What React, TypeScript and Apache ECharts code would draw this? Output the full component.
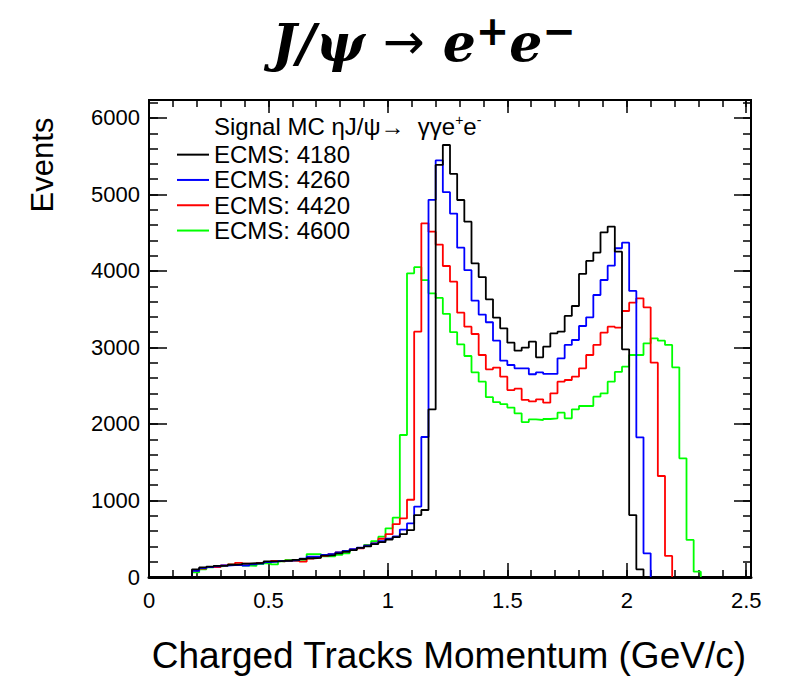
import React, { useEffect, useRef } from "react";
import * as echarts from "echarts";

// Histogram binning (GeV/c)
const BIN_WIDTH = 0.03;
const FIRST_BIN = 6; // first filled bin starts at 0.18 GeV/c

// Bin contents, starting at bin FIRST_BIN
const ecms4180 = [
  100, 125, 135, 145, 150, 160, 165, 175, 180, 185,
  205, 205, 210, 210, 225, 235, 245, 250, 280, 285,
  310, 330, 350, 380, 400, 430, 455, 490, 520, 560,
  614, 810, 876, 2190, 5386, 5647, 5270, 4928, 4645, 4100,
  3920, 3630, 3390, 3251, 3063, 2958, 2998, 3076, 2871, 3011,
  3185, 3207, 3412, 3542, 3961, 4131, 4240, 4505, 4580, 4253,
  2976, 810, 100,
];
const ecms4260 = [
  80, 115, 130, 140, 150, 155, 160, 150, 165, 175,
  195, 200, 210, 215, 220, 240, 265, 265, 290, 300,
  320, 340, 365, 385, 410, 440, 470, 500, 530, 620,
  700, 920, 1830, 4930, 5445, 5030, 4750, 4305, 4010, 3612,
  3430, 3330, 3089, 2828, 2771, 2728, 2728, 2650, 2675, 2654,
  2654, 2858, 3033, 3098, 3281, 3394, 3686, 3882, 4070, 4297,
  4370, 3740, 1826, 310,
];
const ecms4420 = [
  85, 110, 130, 130, 150, 165, 185, 175, 170, 185,
  195, 210, 205, 215, 210, 200, 240, 255, 275, 300,
  320, 340, 360, 375, 410, 440, 500, 560, 690, 765,
  1010, 3207, 4623, 4514, 4345, 4065, 3860, 3455, 3272, 3176,
  2902, 2715, 2737, 2618, 2444, 2462, 2314, 2295, 2322, 2279,
  2401, 2553, 2575, 2618, 2728, 2902, 3033, 3194, 3272, 3260,
  3477, 3586, 3643, 3525, 2802, 1320, 275,
];
const ecms4600 = [
  60, 100, 125, 140, 145, 160, 165, 150, 145, 170,
  180, 165, 205, 225, 215, 225, 300, 300, 270, 270,
  290, 310, 355, 380, 420, 470, 527, 636, 775, 1856,
  3969, 4050, 3880, 3708, 3648, 3440, 3200, 3040, 2889, 2675,
  2553, 2350, 2285, 2260, 2215, 2140, 2025, 2061, 2052, 2065,
  2074, 2148, 2074, 2192, 2235, 2235, 2357, 2400, 2553, 2680,
  2749, 2902, 2902, 3055, 3120, 3089, 3033, 2741, 1551, 484,
  70,
];

const seriesNames = ["ECMS: 4180", "ECMS: 4260", "ECMS: 4420", "ECMS: 4600"];
const seriesColors = ["#000000", "#0000ff", "#ff0000", "#00ff00"];
const seriesValues = [ecms4180, ecms4260, ecms4420, ecms4600];

const X_MAX = 2.52;
const Y_MAX = 6235;
const X_MAJOR = 0.5;
const X_MINOR = 0.1;
const Y_MAJOR = 1000;
const Y_MINOR = 200;

const SANS = "'Liberation Sans', Arial, Helvetica, sans-serif";
const SERIF = "'DejaVu Serif', 'Liberation Serif', serif";

function histPoints(values: number[]): [number, number][] {
  const edge = (k: number) => Math.round(k * BIN_WIDTH * 10000) / 10000;
  const pts: [number, number][] = [];
  pts.push([edge(FIRST_BIN), 0]);
  values.forEach((v, i) => pts.push([edge(FIRST_BIN + i), v]));
  pts.push([edge(FIRST_BIN + values.length), 0]);
  return pts;
}

const isMultiple = (v: number, step: number) =>
  Math.abs(v / step - Math.round(v / step)) < 1e-6;

export default function App() {
  const ref = useRef<HTMLDivElement>(null);

  useEffect(() => {
    document.body.style.margin = "0";
    if (!ref.current) return;
    const chart = echarts.init(ref.current, undefined, { renderer: "svg" });

    const xCommon = {
      type: "value" as const,
      min: 0,
      max: X_MAX,
      axisLine: { show: false, onZero: false },
      splitLine: { show: false },
      axisLabel: { show: false },
    };
    const yCommon = {
      type: "value" as const,
      min: 0,
      max: Y_MAX,
      axisLine: { show: false, onZero: false },
      splitLine: { show: false },
      axisLabel: { show: false },
    };
    const tickStyle = { color: "#000", width: 1.5 };

    const order = [3, 2, 1, 0]; // draw black last (on top)
    const series = order.map((i) => ({
      type: "line" as const,
      name: seriesNames[i],
      data: histPoints(seriesValues[i]),
      step: "end" as const,
      symbol: "none",
      showSymbol: false,
      silent: true,
      clip: true,
      xAxisIndex: 0,
      yAxisIndex: 0,
      lineStyle: { color: seriesColors[i], width: 1.8 },
      itemStyle: { color: seriesColors[i] },
    }));

    const titleRich = {
      a: {
        fontFamily: SERIF,
        fontSize: 52,
        fontWeight: "bold",
        fontStyle: "italic",
        lineHeight: 62,
        fill: "#000",
      },
      r: {
        fontFamily: "'DejaVu Sans', sans-serif",
        fontSize: 50,
        lineHeight: 62,
        fill: "#000",
      },
      s: {
        fontFamily: "'DejaVu Sans', sans-serif",
        fontSize: 40,
        fontWeight: "bold",
        lineHeight: 40,
        verticalAlign: "top",
        fill: "#000",
      },
    };

    chart.setOption({
      animation: false,
      backgroundColor: "#ffffff",
      grid: {
        left: 149,
        top: 100,
        width: 602,
        height: 477,
        show: true,
        borderColor: "#000",
        borderWidth: 2,
        backgroundColor: "transparent",
        containLabel: false,
        outerBoundsMode: "none",
      },
      xAxis: [
        {
          ...xCommon,
          position: "bottom",
          interval: X_MAJOR,
          axisLine: { show: true, onZero: false, lineStyle: { color: "#000", width: 3 } },
          axisTick: { show: true, inside: true, length: 14, lineStyle: tickStyle },
          axisLabel: {
            show: true,
            margin: 12,
            color: "#000",
            fontFamily: SANS,
            fontSize: 22,
            formatter: (v: number) => (isMultiple(v, X_MAJOR) ? String(v) : ""),
          },
        },
        {
          ...xCommon,
          position: "bottom",
          interval: X_MINOR,
          axisTick: { show: true, inside: true, length: 7, lineStyle: tickStyle },
        },
        {
          ...xCommon,
          position: "top",
          interval: X_MAJOR,
          axisTick: { show: true, inside: true, length: 13, lineStyle: tickStyle },
        },
        {
          ...xCommon,
          position: "top",
          interval: X_MINOR,
          axisTick: { show: true, inside: true, length: 7, lineStyle: tickStyle },
        },
      ],
      yAxis: [
        {
          ...yCommon,
          position: "left",
          interval: Y_MAJOR,
          axisTick: { show: true, inside: true, length: 18, lineStyle: tickStyle },
          axisLabel: {
            show: true,
            margin: 9,
            color: "#000",
            fontFamily: SANS,
            fontSize: 22,
            formatter: (v: number) => (isMultiple(v, Y_MAJOR) ? String(v) : ""),
          },
        },
        {
          ...yCommon,
          position: "left",
          interval: Y_MINOR,
          axisTick: { show: true, inside: true, length: 9, lineStyle: tickStyle },
        },
        {
          ...yCommon,
          position: "right",
          interval: Y_MAJOR,
          axisTick: { show: true, inside: true, length: 17, lineStyle: tickStyle },
        },
        {
          ...yCommon,
          position: "right",
          interval: Y_MINOR,
          axisTick: { show: true, inside: true, length: 8, lineStyle: tickStyle },
        },
      ],
      legend: {
        data: seriesNames,
        orient: "vertical",
        left: 177,
        top: 142,
        padding: 0,
        itemGap: 0,
        itemWidth: 32,
        itemHeight: 2,
        icon: "rect",
        selectedMode: false,
        textStyle: {
          color: "#000",
          fontFamily: SANS,
          fontSize: 24,
          lineHeight: 25.3,
        },
      },
      graphic: [
        {
          type: "text",
          x: 424,
          y: 42,
          style: {
            text: "{a|J/ψ }{r|→}{a| e}{s|+}{a|e}{s|−}",
            textAlign: "center",
            textVerticalAlign: "middle",
            fill: "#000",
            rich: titleRich,
          },
        },
        {
          type: "text",
          x: 214,
          y: 126,
          style: {
            text: "{n|Signal MC ηJ/ψ→  γγe}{s|+}{n|e}{s|-}",
            textAlign: "left",
            textVerticalAlign: "middle",
            fill: "#000",
            rich: {
              n: { fontFamily: SANS, fontSize: 24, lineHeight: 26, fill: "#000" },
              s: { fontFamily: SANS, fontSize: 14, lineHeight: 14, verticalAlign: "top", fill: "#000" },
            },
          },
        },
        {
          type: "text",
          x: 42,
          y: 165,
          rotation: Math.PI / 2,
          style: {
            text: "Events",
            textAlign: "center",
            textVerticalAlign: "middle",
            fontFamily: SANS,
            fontSize: 31,
            fill: "#000",
          },
        },
        {
          type: "text",
          x: 746,
          y: 655,
          style: {
            text: "Charged Tracks Momentum (GeV/c)",
            textAlign: "right",
            textVerticalAlign: "middle",
            fontFamily: SANS,
            fontSize: 37,
            fill: "#000",
          },
        },
      ],
      series,
    });

    return () => {
      chart.dispose();
    };
  }, []);

  return <div ref={ref} style={{ width: 798, height: 677 }} />;
}
